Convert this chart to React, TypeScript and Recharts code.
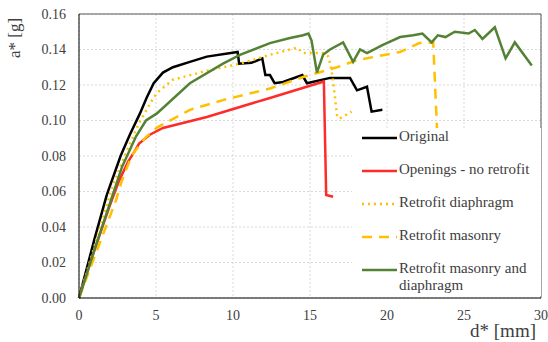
import React from 'react';
import { LineChart, Line, XAxis, YAxis, CartesianGrid, Legend, ReferenceLine, Label } from 'recharts';

const originalX = [0, 1, 1.8, 2.7, 3.3, 3.96, 4.4, 4.85, 5.45, 6.1, 7.2, 8.3, 10.3, 10.4, 11.2, 11.9, 12.1, 12.4, 12.7, 13.25, 14.5, 14.8, 16.3, 17.6, 18.05, 18.7, 19.0, 19.7];
const originalY = [0, 0.033, 0.058, 0.08, 0.092, 0.104, 0.113, 0.121, 0.127, 0.130, 0.133, 0.136, 0.1386, 0.132, 0.1325, 0.135, 0.1256, 0.1256, 0.121, 0.1217, 0.1256, 0.121, 0.124, 0.124, 0.117, 0.119, 0.105, 0.106];

const openingsX = [0, 1, 2, 2.6, 3.2, 3.57, 3.9, 4.6, 5.45, 8.3, 12.4, 15.9, 16.05, 16.5];
const openingsY = [0, 0.027, 0.052, 0.066, 0.077, 0.082, 0.087, 0.092, 0.0958, 0.102, 0.1127, 0.122, 0.058, 0.057];

const diaphragmX = [0, 1, 2.15, 3.05, 3.9, 4.75, 5.06, 6.1, 8.3, 10.45, 12.4, 14.15, 14.55, 15.85, 16.2, 16.4, 16.6, 16.75, 16.9, 17.7];
const diaphragmY = [0, 0.029, 0.0625, 0.0817, 0.0986, 0.1115, 0.1155, 0.123, 0.128, 0.132, 0.137, 0.141, 0.138, 0.138, 0.136, 0.128, 0.115, 0.103, 0.101, 0.105];

const masonryX = [0, 1, 2.4, 2.8, 3.44, 4.35, 5.06, 7.2, 9.35, 12.4, 14.55, 16.75, 18.05, 20.85, 22.1, 23.0, 23.3];
const masonryY = [0, 0.023, 0.055, 0.0665, 0.0806, 0.0907, 0.096, 0.106, 0.1115, 0.118, 0.1245, 0.130, 0.134, 0.1386, 0.1436, 0.144, 0.085];

const bothX = [0, 1, 2.07, 2.8, 3.7, 3.96, 4.35, 5.06, 7.2, 9.35, 10.45, 12.4, 13.7, 14.55, 14.9, 15.1, 15.45, 15.85, 16.3, 17.15, 17.8, 18.25, 18.7, 19.7, 20.85, 21.7, 22.3, 22.9, 23.3, 23.8, 24.4, 25.3, 25.7, 26.2, 27.0, 27.7, 28.3, 29.4];
const bothY = [0, 0.027, 0.055, 0.074, 0.091, 0.0946, 0.1, 0.104, 0.121, 0.132, 0.137, 0.1436, 0.1465, 0.148, 0.149, 0.145, 0.127, 0.137, 0.140, 0.144, 0.133, 0.140, 0.138, 0.1425, 0.147, 0.148, 0.149, 0.144, 0.148, 0.147, 0.150, 0.149, 0.151, 0.146, 0.1525, 0.135, 0.144, 0.131];

const xTicks = [0, 5, 10, 15, 20, 25, 30];
const yTicks = [0, 0.02, 0.04, 0.06, 0.08, 0.1, 0.12, 0.14, 0.16];

const toPoints = (xs: number[], ys: number[]) => xs.map((x, i) => ({ x, y: ys[i] }));

const series = [
  { name: 'Original', data: toPoints(originalX, originalY), color: '#000000', dash: undefined as string | undefined },
  { name: 'Openings - no retrofit', data: toPoints(openingsX, openingsY), color: '#ff2a2a', dash: undefined },
  { name: 'Retrofit diaphragm', data: toPoints(diaphragmX, diaphragmY), color: '#ffc000', dash: '2 4' },
  { name: 'Retrofit masonry', data: toPoints(masonryX, masonryY), color: '#ffc000', dash: '10 7' },
  { name: 'Retrofit masonry and diaphragm', data: toPoints(bothX, bothY), color: '#548235', dash: undefined },
];

const FONT = 'Liberation Serif, serif';
const TEXT = '#404040';

const LegendBox = () => (
  <div style={{ position: 'relative', width: 189, height: 168, background: '#fff', fontFamily: FONT, fontSize: 15, color: TEXT }}>
    {series.map((s, i) => (
      <div key={s.name} style={{ position: 'absolute', left: 10, top: i * 33, display: 'flex', alignItems: 'flex-start' }}>
        <svg width={37} height={18} style={{ flex: 'none', marginTop: 1 }}>
          <line x1={0} y1={9} x2={35} y2={9} stroke={s.color} strokeWidth={2.5} strokeDasharray={s.dash} />
        </svg>
        <span style={{ lineHeight: '17px', width: 142 }}>{s.name}</span>
      </div>
    ))}
  </div>
);

export default function App() {
  return (
    <div style={{ position: 'absolute', left: 0, top: 0, width: 548, height: 342, background: '#fff' }}>
      <LineChart width={548} height={342} margin={{ top: 14, right: 7, left: 0, bottom: 0 }}>
        <CartesianGrid stroke="#d9d9d9" strokeDasharray="2 2" />
        <XAxis
          dataKey="x"
          type="number"
          domain={[0, 30]}
          ticks={xTicks}
          interval={0}
          height={44}
          tickLine={false}
          tickMargin={6}
          stroke="#000"
          tick={{ fill: TEXT, fontSize: 14, fontFamily: FONT }}
          allowDuplicatedCategory={false}
        >
          <Label
            content={() => (
              <text x={536} y={337} textAnchor="end" fill={TEXT} fontSize={19} fontFamily={FONT}>d* [mm]</text>
            )}
          />
        </XAxis>
        <YAxis
          type="number"
          domain={[0, 0.16]}
          ticks={yTicks}
          interval={0}
          width={79}
          tickLine={false}
          tickMargin={7}
          stroke="#000"
          tickFormatter={(v: number) => v.toFixed(2)}
          tick={{ fill: TEXT, fontSize: 14, fontFamily: FONT }}
        >
          <Label
            content={() => (
              <text x={20} y={38} transform="rotate(-90 20 38)" textAnchor="middle" fill={TEXT} fontSize={17} fontFamily={FONT}>a* [g]</text>
            )}
          />
        </YAxis>
        <ReferenceLine y={0.16} stroke="#595959" strokeWidth={1} />
        <ReferenceLine x={30} stroke="#595959" strokeWidth={1} />
        {series.map((s) => (
          <Line
            key={s.name}
            data={s.data}
            dataKey="y"
            name={s.name}
            type="linear"
            stroke={s.color}
            strokeWidth={2.5}
            strokeDasharray={s.dash}
            dot={false}
            isAnimationActive={false}
          />
        ))}
        <Legend
          layout="vertical"
          align="center"
          verticalAlign="middle"
          content={() => <LegendBox />}
          wrapperStyle={{ position: 'absolute', left: 352, top: 128, width: 189, height: 168 }}
        />
      </LineChart>
    </div>
  );
}
